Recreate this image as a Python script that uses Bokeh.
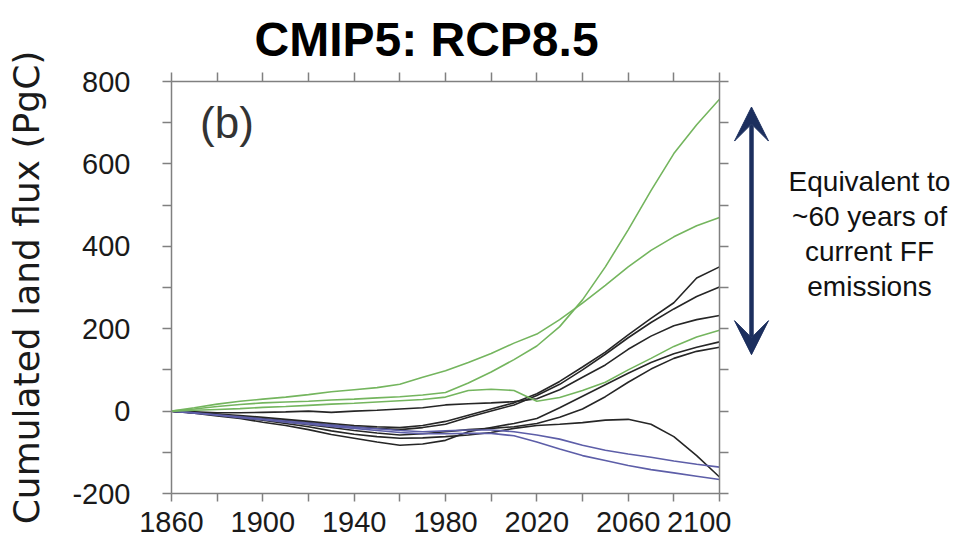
from bokeh.plotting import figure
from bokeh.layouts import row
from bokeh.models import Range1d, LinearAxis, FixedTicker, Label, Arrow, VeeHead
from bokeh.embed import file_html
from bokeh.resources import INLINE

# ---------------- data ----------------
years = [1860, 1870, 1880, 1890, 1900, 1910, 1920, 1930, 1940, 1950, 1960, 1970,
         1980, 1990, 2000, 2010, 2020, 2030, 2040, 2050, 2060, 2070, 2080, 2090, 2100]

# green models
green_a = [0, 5, 11, 16, 20, 22, 24, 27, 29, 32, 35, 39, 45, 68, 95, 125, 158, 205, 270, 350, 440, 535, 625, 695, 757]
green_b = [0, 8, 17, 24, 29, 34, 40, 47, 52, 57, 65, 82, 98, 118, 140, 165, 187, 222, 262, 305, 350, 390, 423, 450, 470]
green_c = [0, 2, 4, 6, 9, 11, 14, 17, 19, 22, 25, 28, 34, 50, 53, 50, 24, 33, 50, 70, 100, 128, 157, 180, 196]

# black models
black_a = [0, -3, -7, -11, -15, -20, -25, -30, -35, -38, -40, -35, -25, -10, 5, 20, 42, 72, 107, 143, 185, 225, 263, 323, 350]
black_b = [0, -4, -8, -13, -18, -23, -28, -33, -38, -42, -45, -40, -32, -15, 0, 15, 38, 65, 100, 138, 178, 215, 248, 278, 301]
black_c = [0, -2, -4, -4, -3, -2, 0, -3, 0, 2, 5, 8, 15, 18, 20, 23, 30, 52, 82, 112, 150, 182, 207, 222, 232]
black_d = [0, -5, -12, -18, -27, -35, -45, -57, -66, -75, -83, -80, -71, -50, -40, -30, -18, 8, 36, 64, 92, 118, 139, 155, 168]
black_e = [0, -4, -9, -14, -20, -26, -33, -40, -47, -53, -58, -55, -50, -45, -42, -38, -30, -15, 5, 35, 70, 102, 128, 145, 155]
black_f = [0, -4, -10, -16, -22, -30, -38, -48, -56, -62, -66, -65, -62, -58, -52, -42, -35, -32, -28, -22, -20, -32, -62, -108, -160]

# blue models
blue_a = [0, -4, -9, -14, -19, -24, -29, -34, -39, -43, -47, -50, -48, -46, -46, -50, -58, -68, -83, -95, -104, -112, -121, -129, -136]
blue_b = [0, -5, -10, -16, -21, -27, -32, -37, -42, -47, -52, -55, -55, -54, -54, -60, -75, -92, -108, -120, -132, -142, -150, -158, -166]

x_labeled = [1860, 1900, 1940, 1980, 2020, 2060, 2100]
x_minor = [1880, 1920, 1960, 2000, 2040, 2080]
x_all = [1860, 1880, 1900, 1920, 1940, 1960, 1980, 2000, 2020, 2040, 2060, 2080, 2100]
y_labeled = [-200, 0, 200, 400, 600, 800]
y_minor = [-100, 100, 300, 500, 700]
y_all = [-200, -100, 0, 100, 200, 300, 400, 500, 600, 700, 800]
y_label_strings = {-200: "-200", 0: "0", 200: "200", 400: "400", 600: "600", 800: "800"}

title_text = "CMIP5: RCP8.5"
y_label_text = "Cumulated land flux (PgC)"
panel_tag = "(b)"
note_lines = ["Equivalent to", "~60 years of", "current FF", "emissions"]
note_y = [557, 472, 387, 302]
arrow_span = (137, 738)

# ---------------- styling ----------------
GREEN = "#74b55e"
BLACK = "#262626"
BLUE = "#5d5ea8"
AXIS = "#808080"
NAVY = "#1c2f5e"
FONT = "Liberation Sans"

p = figure(width=731, height=544, output_backend="svg", toolbar_location=None,
           x_range=Range1d(1860, 2100), y_range=Range1d(-200, 800),
           x_axis_location=None, y_axis_location=None,
           min_border_left=171, min_border_right=12, min_border_top=81, min_border_bottom=51,
           title=title_text)
p.outline_line_color = None
p.background_fill_color = "white"
p.border_fill_color = "white"
p.grid.visible = False

p.title.text_font = FONT
p.title.text_font_size = "48px"
p.title.text_font_style = "bold"
p.title.text_color = "black"
p.title.align = "left"
p.title.offset = 83
p.title.standoff = 13


def style(ax):
    ax.axis_line_color = AXIS
    ax.axis_line_width = 1.5
    ax.major_tick_line_color = AXIS
    ax.minor_tick_line_color = AXIS
    ax.major_tick_line_width = 1.5
    ax.minor_tick_line_width = 1.5
    ax.major_tick_in = 0
    ax.minor_tick_in = 0
    ax.major_tick_out = 9
    ax.minor_tick_out = 9
    ax.major_label_text_font = FONT
    ax.major_label_text_font_size = "29px"
    ax.major_label_text_color = "#1a1a1a"


bottom = LinearAxis(ticker=FixedTicker(ticks=x_labeled, minor_ticks=x_minor))
style(bottom)
bottom.major_tick_out = 8
bottom.minor_tick_out = 8
bottom.major_label_standoff = 10
p.add_layout(bottom, "below")

top = LinearAxis(ticker=FixedTicker(ticks=[], minor_ticks=x_all))
style(top)
top.major_label_standoff = 0
p.add_layout(top, "above")

left = LinearAxis(ticker=FixedTicker(ticks=y_labeled, minor_ticks=y_minor),
                  axis_label=y_label_text, major_label_overrides=y_label_strings)
style(left)
left.major_label_standoff = 32
left.axis_label_text_font = "DejaVu Sans"
left.axis_label_text_font_size = "36px"
left.axis_label_text_font_style = "normal"
left.axis_label_text_color = "#1a1a1a"
left.axis_label_standoff = 22
p.add_layout(left, "left")

right = LinearAxis(ticker=FixedTicker(ticks=[], minor_ticks=y_all))
style(right)
right.major_label_standoff = 0
p.add_layout(right, "right")

for s in [black_a, black_b, black_c, black_d, black_e, black_f]:
    p.line(years, s, line_color=BLACK, line_width=1.6)
for s in [blue_a, blue_b]:
    p.line(years, s, line_color=BLUE, line_width=1.6)
for s in [green_a, green_b, green_c]:
    p.line(years, s, line_color=GREEN, line_width=1.6)

p.add_layout(Label(x=1872.5, y=700, text=panel_tag, text_font=FONT, text_font_size="44px",
                   text_color="#333333", text_baseline="middle", text_align="left"))

# ---------------- side annotation panel ----------------
p2 = figure(width=222, height=544, output_backend="svg", toolbar_location=None,
            x_range=Range1d(0, 222), y_range=p.y_range,
            x_axis_location=None, y_axis_location=None, title=None,
            min_border_left=0, min_border_right=0, min_border_top=81, min_border_bottom=51)
p2.outline_line_color = None
p2.background_fill_color = "white"
p2.border_fill_color = "white"
p2.grid.visible = False

p2.add_layout(Arrow(x_start=20, y_start=arrow_span[0], x_end=20, y_end=arrow_span[1],
                    line_color=NAVY, line_width=4.5,
                    start=VeeHead(size=34, fill_color=NAVY, line_color=NAVY),
                    end=VeeHead(size=34, fill_color=NAVY, line_color=NAVY)))

for t, yy in zip(note_lines, note_y):
    p2.add_layout(Label(x=138, y=yy, text=t, text_font=FONT, text_font_size="28px",
                        text_color="#111111", text_align="center", text_baseline="middle"))

layout = row(p, p2)
open("out.html", "w").write(file_html(layout, INLINE))
